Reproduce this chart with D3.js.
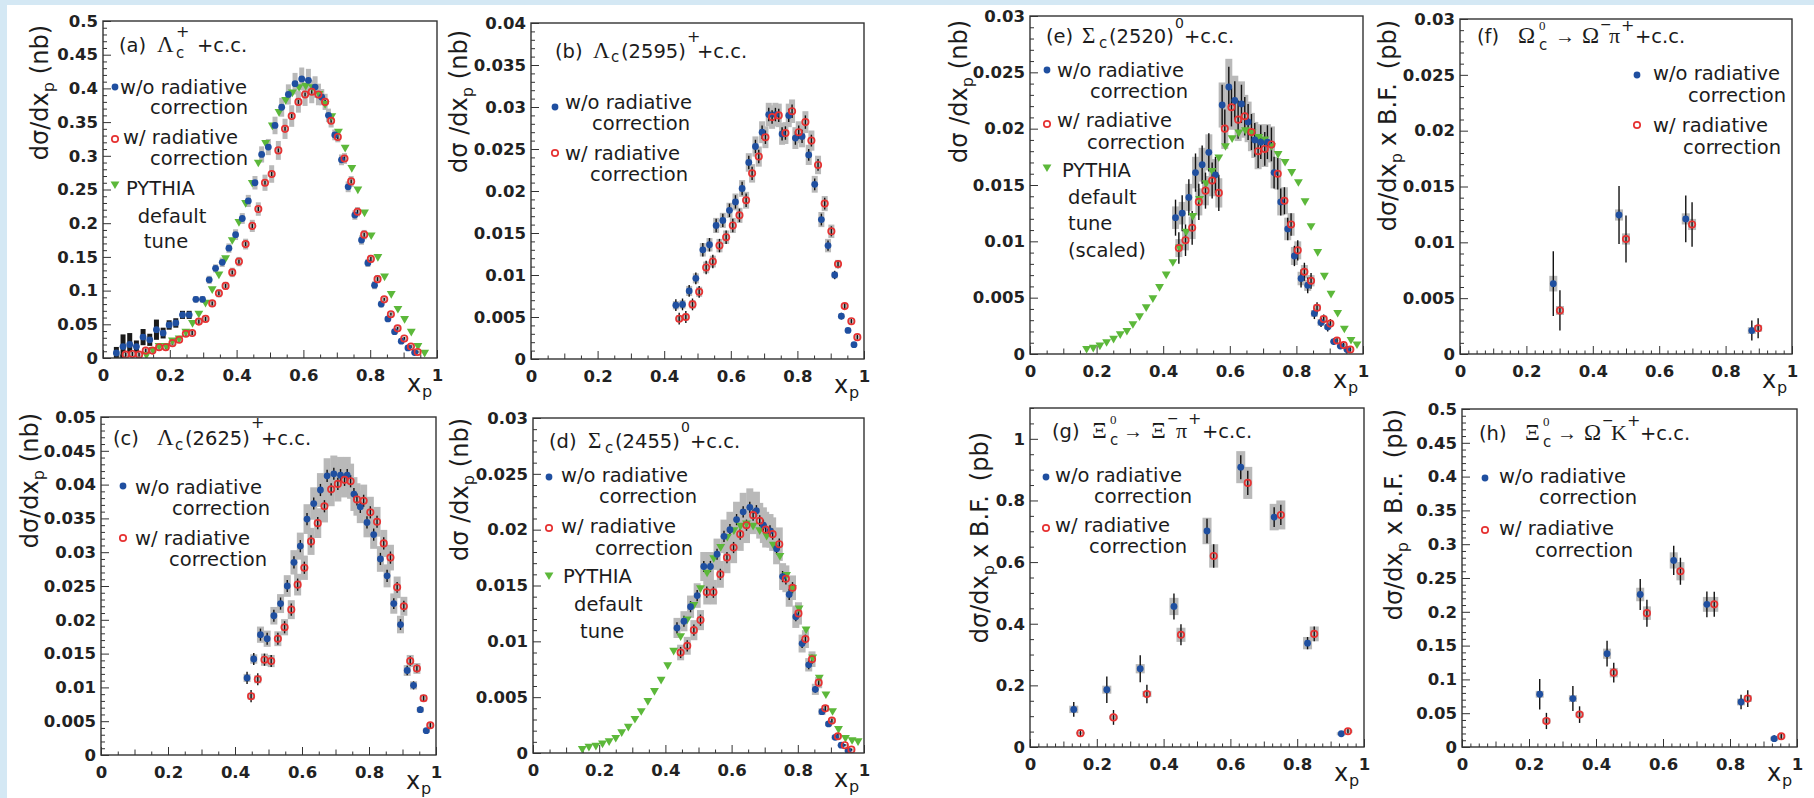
<!DOCTYPE html>
<html><head><meta charset="utf-8">
<script src="https://cdn.jsdelivr.net/npm/d3@7"></script>
<style>body{margin:0;background:#fff} svg{display:block}</style>
</head><body><svg id="c" width="1814" height="798"></svg>
<script>
// ---------------- DATA ----------------
const xTicks = [0, 0.2, 0.4, 0.6, 0.8, 1];
const xTickLabels = ["0", "0.2", "0.4", "0.6", "0.8", "1"];
const yTicksA = [0,0.05,0.1,0.15,0.2,0.25,0.3,0.35,0.4,0.45,0.5];
const yLabelsA = ["0","0.05","0.1","0.15","0.2","0.25","0.3","0.35","0.4","0.45","0.5"];
const yTicksB = [0,0.005,0.01,0.015,0.02,0.025,0.03,0.035,0.04];
const yLabelsB = ["0","0.005","0.01","0.015","0.02","0.025","0.03","0.035","0.04"];
const yTicksC = [0,0.005,0.01,0.015,0.02,0.025,0.03,0.035,0.04,0.045,0.05];
const yLabelsC = ["0","0.005","0.01","0.015","0.02","0.025","0.03","0.035","0.04","0.045","0.05"];
const yTicksD = [0,0.005,0.01,0.015,0.02,0.025,0.03];
const yLabelsD = ["0","0.005","0.01","0.015","0.02","0.025","0.03"];
const yTicksG = [0,0.2,0.4,0.6,0.8,1];
const yLabelsG = ["0","0.2","0.4","0.6","0.8","1"];

// [x, value, stat err, syst err]
const aBlue = [[0.040,0.0074,0.004,0.009],[0.060,0.017,0.005,0.018],[0.080,0.020,0.005,0.017],[0.100,0.017,0.004,0.009],[0.120,0.031,0.004,0.012],[0.140,0.027,0.004,0.009],[0.160,0.042,0.004,0.015],[0.180,0.037,0.004,0.008],[0.198,0.049,0.004,0.007],[0.218,0.052,0.004,0.007],[0.238,0.064,0.004,0.006],[0.258,0.064,0.004,0.006],[0.278,0.087,0.003,0.005],[0.298,0.087,0.003,0.005],[0.318,0.116,0.003,0.006],[0.337,0.133,0.003,0.006],[0.357,0.142,0.003,0.007],[0.377,0.163,0.003,0.007],[0.397,0.183,0.003,0.008],[0.417,0.207,0.003,0.008],[0.435,0.233,0.003,0.009],[0.455,0.260,0.003,0.010],[0.475,0.302,0.003,0.012],[0.495,0.313,0.003,0.012],[0.515,0.345,0.003,0.013],[0.535,0.372,0.003,0.014],[0.555,0.391,0.003,0.015],[0.575,0.407,0.003,0.016],[0.595,0.414,0.003,0.017],[0.615,0.412,0.003,0.017],[0.635,0.402,0.003,0.016],[0.655,0.387,0.003,0.012],[0.675,0.360,0.003,0.010],[0.694,0.331,0.003,0.008],[0.714,0.294,0.003,0.008],[0.734,0.254,0.003,0.008],[0.754,0.212,0.003,0.007],[0.774,0.175,0.003,0.007],[0.793,0.141,0.003,0.006],[0.813,0.108,0.003,0.006],[0.833,0.080,0.002,0.005],[0.853,0.058,0.002,0.004],[0.873,0.039,0.002,0.004],[0.893,0.025,0.002,0.003],[0.913,0.015,0.002,0.003],[0.933,0.008,0.002,0.002]];
const aRed = [[0.068,0.005,0.003,0.003],[0.088,0.006,0.003,0.003],[0.108,0.005,0.003,0.003],[0.128,0.011,0.003,0.003],[0.148,0.011,0.003,0.003],[0.168,0.016,0.003,0.003],[0.188,0.016,0.003,0.003],[0.208,0.022,0.003,0.004],[0.228,0.027,0.003,0.004],[0.248,0.036,0.003,0.004],[0.267,0.037,0.003,0.004],[0.287,0.054,0.003,0.005],[0.307,0.058,0.003,0.005],[0.327,0.081,0.003,0.005],[0.347,0.096,0.003,0.006],[0.367,0.107,0.003,0.006],[0.387,0.127,0.003,0.007],[0.407,0.143,0.003,0.007],[0.427,0.169,0.003,0.008],[0.447,0.196,0.003,0.009],[0.465,0.221,0.003,0.010],[0.485,0.260,0.003,0.012],[0.505,0.273,0.003,0.013],[0.525,0.308,0.003,0.014],[0.545,0.340,0.003,0.015],[0.565,0.359,0.003,0.016],[0.585,0.380,0.003,0.016],[0.605,0.391,0.003,0.017],[0.625,0.395,0.003,0.017],[0.645,0.391,0.003,0.016],[0.665,0.380,0.003,0.012],[0.683,0.352,0.003,0.010],[0.703,0.328,0.003,0.008],[0.723,0.296,0.003,0.008],[0.743,0.262,0.003,0.008],[0.762,0.217,0.003,0.007],[0.782,0.183,0.003,0.007],[0.802,0.147,0.003,0.006],[0.822,0.117,0.003,0.006],[0.842,0.087,0.002,0.005],[0.862,0.065,0.002,0.004],[0.882,0.044,0.002,0.004],[0.902,0.029,0.002,0.003],[0.922,0.017,0.002,0.003],[0.942,0.009,0.002,0.002]];
const aPythia = [[0.130,0.0035],[0.150,0.011],[0.168,0.017],[0.190,0.017],[0.208,0.025],[0.228,0.028],[0.248,0.038],[0.268,0.051],[0.287,0.065],[0.307,0.081],[0.327,0.101],[0.347,0.123],[0.367,0.147],[0.387,0.174],[0.407,0.201],[0.427,0.229],[0.447,0.259],[0.465,0.289],[0.487,0.318],[0.507,0.344],[0.527,0.364],[0.547,0.382],[0.567,0.393],[0.587,0.401],[0.607,0.403],[0.627,0.401],[0.647,0.391],[0.665,0.376],[0.685,0.358],[0.705,0.335],[0.725,0.311],[0.745,0.281],[0.763,0.249],[0.783,0.215],[0.803,0.181],[0.823,0.149],[0.843,0.120],[0.863,0.094],[0.883,0.072],[0.903,0.057],[0.923,0.038],[0.943,0.017],[0.963,0.007]];

const bBlue = [[0.435,0.0064,0.0007,0.0005],[0.455,0.0065,0.0007,0.0005],[0.475,0.0081,0.0007,0.0006],[0.495,0.0096,0.0007,0.0006],[0.516,0.0130,0.0008,0.0008],[0.536,0.0136,0.0008,0.0008],[0.556,0.0159,0.0008,0.0009],[0.576,0.0165,0.0008,0.0009],[0.596,0.0177,0.0008,0.0009],[0.614,0.0187,0.0008,0.0010],[0.634,0.0203,0.0008,0.0010],[0.654,0.0234,0.0008,0.0011],[0.674,0.0253,0.0008,0.0012],[0.694,0.0270,0.0008,0.0013],[0.714,0.0291,0.0008,0.0014],[0.734,0.0291,0.0008,0.0014],[0.754,0.0268,0.0008,0.0013],[0.774,0.0290,0.0008,0.0014],[0.794,0.0263,0.0008,0.0013],[0.814,0.0265,0.0008,0.0013],[0.834,0.0243,0.0007,0.0012],[0.852,0.0208,0.0007,0.0010],[0.872,0.0166,0.0007,0.0009],[0.892,0.0135,0.0006,0.0008],[0.912,0.0100,0.0005,0.0004],[0.932,0.0051,0.0004,0.0003],[0.952,0.0034,0.0003,0.0002],[0.970,0.0017,0.0003,0.0002]];
const bRed = [[0.445,0.0048,0.0007,0.0004],[0.465,0.0050,0.0007,0.0004],[0.485,0.0065,0.0007,0.0005],[0.505,0.0080,0.0007,0.0006],[0.526,0.0109,0.0008,0.0007],[0.546,0.0116,0.0008,0.0007],[0.566,0.0135,0.0008,0.0008],[0.586,0.0145,0.0008,0.0008],[0.606,0.0159,0.0008,0.0009],[0.626,0.0171,0.0008,0.0009],[0.646,0.0189,0.0008,0.0010],[0.664,0.0221,0.0008,0.0011],[0.684,0.0241,0.0008,0.0012],[0.704,0.0264,0.0008,0.0013],[0.724,0.0288,0.0008,0.0014],[0.744,0.0290,0.0008,0.0014],[0.764,0.0269,0.0008,0.0013],[0.784,0.0295,0.0008,0.0014],[0.804,0.0270,0.0008,0.0013],[0.824,0.0282,0.0008,0.0013],[0.842,0.0260,0.0007,0.0012],[0.862,0.0231,0.0007,0.0011],[0.882,0.0185,0.0007,0.0009],[0.902,0.0152,0.0006,0.0008],[0.922,0.0113,0.0005,0.0005],[0.942,0.0063,0.0004,0.0003],[0.962,0.0045,0.0003,0.0002],[0.980,0.0026,0.0003,0.0002]];

const cBlue = [[0.436,0.0114,0.0009,0.0006],[0.456,0.0142,0.0009,0.0007],[0.476,0.0178,0.0009,0.0012],[0.496,0.0172,0.0009,0.0012],[0.516,0.0206,0.0009,0.0013],[0.536,0.0224,0.0009,0.0014],[0.556,0.0250,0.0009,0.0016],[0.576,0.0285,0.0009,0.0018],[0.595,0.0309,0.0009,0.0020],[0.615,0.0349,0.0009,0.0022],[0.635,0.0372,0.0009,0.0024],[0.655,0.0392,0.0009,0.0025],[0.675,0.0413,0.0009,0.0026],[0.695,0.0416,0.0009,0.0027],[0.715,0.0414,0.0009,0.0027],[0.735,0.0414,0.0009,0.0027],[0.755,0.0386,0.0009,0.0025],[0.774,0.0367,0.0009,0.0024],[0.794,0.0344,0.0009,0.0022],[0.814,0.0326,0.0009,0.0021],[0.834,0.0290,0.0009,0.0019],[0.854,0.0265,0.0009,0.0017],[0.874,0.0224,0.0008,0.0015],[0.894,0.0193,0.0008,0.0013],[0.914,0.0125,0.0007,0.0008],[0.933,0.0103,0.0006,0.0006],[0.953,0.0067,0.0005,0.0004],[0.971,0.0036,0.0004,0.0003]];
const cRed = [[0.448,0.0087,0.0009,0.0005],[0.468,0.0112,0.0009,0.0006],[0.488,0.0141,0.0009,0.0009],[0.508,0.0139,0.0009,0.0009],[0.528,0.0172,0.0009,0.0011],[0.548,0.0189,0.0009,0.0012],[0.568,0.0215,0.0009,0.0014],[0.587,0.0252,0.0009,0.0016],[0.607,0.0277,0.0009,0.0018],[0.627,0.0316,0.0009,0.0020],[0.647,0.0343,0.0009,0.0022],[0.667,0.0368,0.0009,0.0024],[0.687,0.0393,0.0009,0.0025],[0.707,0.0401,0.0009,0.0026],[0.727,0.0407,0.0009,0.0026],[0.745,0.0405,0.0009,0.0026],[0.764,0.0378,0.0009,0.0024],[0.784,0.0376,0.0009,0.0024],[0.804,0.0359,0.0009,0.0023],[0.824,0.0345,0.0009,0.0022],[0.844,0.0313,0.0009,0.0020],[0.864,0.0292,0.0009,0.0019],[0.884,0.0248,0.0008,0.0016],[0.904,0.0220,0.0008,0.0014],[0.923,0.0139,0.0007,0.0009],[0.943,0.0128,0.0006,0.0008],[0.963,0.0084,0.0005,0.0005],[0.983,0.0044,0.0004,0.0003]];

const dBlue = [[0.435,0.0112,0.0005,0.0009],[0.456,0.0118,0.0005,0.0009],[0.476,0.0131,0.0005,0.0010],[0.496,0.0141,0.0005,0.0011],[0.516,0.0167,0.0005,0.0013],[0.536,0.0167,0.0005,0.0013],[0.556,0.0178,0.0005,0.0014],[0.577,0.0194,0.0005,0.0015],[0.595,0.0200,0.0005,0.0016],[0.615,0.0209,0.0005,0.0016],[0.635,0.0216,0.0005,0.0017],[0.655,0.0220,0.0005,0.0017],[0.675,0.0217,0.0005,0.0017],[0.696,0.0204,0.0005,0.0016],[0.716,0.0199,0.0005,0.0015],[0.736,0.0183,0.0005,0.0014],[0.754,0.0158,0.0005,0.0012],[0.774,0.0142,0.0005,0.0011],[0.794,0.0122,0.0004,0.0010],[0.813,0.0098,0.0004,0.0008],[0.833,0.0079,0.0004,0.0006],[0.853,0.0057,0.0003,0.0005],[0.873,0.0037,0.0003,0.0003],[0.893,0.0026,0.0002,0.0002],[0.913,0.0014,0.0002,0.0002],[0.931,0.0007,0.0001,0.0001],[0.952,0.0002,0.0001,0.0001]];
const dRed = [[0.446,0.0090,0.0005,0.0007],[0.466,0.0096,0.0005,0.0008],[0.486,0.0110,0.0005,0.0009],[0.506,0.0119,0.0005,0.0009],[0.525,0.0144,0.0005,0.0011],[0.545,0.0144,0.0005,0.0011],[0.566,0.0160,0.0005,0.0012],[0.586,0.0175,0.0005,0.0014],[0.606,0.0184,0.0005,0.0014],[0.626,0.0196,0.0005,0.0015],[0.645,0.0204,0.0005,0.0016],[0.665,0.0213,0.0005,0.0017],[0.685,0.0208,0.0005,0.0016],[0.703,0.0200,0.0005,0.0016],[0.724,0.0196,0.0005,0.0015],[0.744,0.0187,0.0005,0.0015],[0.764,0.0156,0.0005,0.0012],[0.784,0.0148,0.0005,0.0011],[0.802,0.0125,0.0004,0.0010],[0.823,0.0102,0.0004,0.0008],[0.843,0.0084,0.0004,0.0007],[0.863,0.0063,0.0003,0.0005],[0.883,0.0040,0.0003,0.0003],[0.903,0.0029,0.0002,0.0002],[0.921,0.0015,0.0002,0.0002],[0.942,0.0007,0.0001,0.0001],[0.962,0.0003,0.0001,0.0001]];
const dPythia = [[0.149,0.0003],[0.169,0.0005],[0.190,0.0006],[0.210,0.0008],[0.230,0.0010],[0.250,0.0013],[0.268,0.0018],[0.288,0.0023],[0.308,0.0030],[0.327,0.0037],[0.347,0.0046],[0.367,0.0055],[0.387,0.0065],[0.407,0.0078],[0.425,0.0091],[0.446,0.0104],[0.466,0.0119],[0.486,0.0132],[0.506,0.0147],[0.526,0.0161],[0.546,0.0174],[0.567,0.0184],[0.587,0.0193],[0.607,0.0199],[0.627,0.0203],[0.645,0.0205],[0.665,0.0203],[0.685,0.0199],[0.706,0.0194],[0.726,0.0186],[0.746,0.0176],[0.766,0.0159],[0.784,0.0147],[0.804,0.0129],[0.825,0.0110],[0.845,0.0085],[0.865,0.0067],[0.885,0.0052],[0.905,0.0037],[0.923,0.0021],[0.944,0.0013],[0.964,0.0011],[0.982,0.0010]];

const eBlue = [[0.437,0.0121,0.0016,0.0010],[0.457,0.0125,0.0016,0.0010],[0.477,0.0139,0.0016,0.0012],[0.497,0.0161,0.0017,0.0014],[0.517,0.0168,0.0017,0.0015],[0.537,0.0179,0.0017,0.0016],[0.557,0.0159,0.0016,0.0014],[0.577,0.0221,0.0018,0.0020],[0.597,0.0237,0.0018,0.0025],[0.615,0.0225,0.0017,0.0022],[0.635,0.0222,0.0017,0.0020],[0.655,0.0206,0.0016,0.0018],[0.675,0.0190,0.0015,0.0016],[0.693,0.0188,0.0015,0.0016],[0.713,0.0188,0.0015,0.0016],[0.733,0.0161,0.0014,0.0014],[0.753,0.0135,0.0012,0.0012],[0.774,0.0111,0.0010,0.0010],[0.794,0.0087,0.0009,0.0008],[0.814,0.0067,0.0008,0.0006],[0.834,0.0061,0.0007,0.0005],[0.854,0.0036,0.0005,0.0003],[0.874,0.0028,0.0004,0.0003],[0.894,0.0024,0.0004,0.0002],[0.912,0.0011,0.0003,0.0001],[0.932,0.0007,0.0002,0.0001],[0.952,0.0004,0.0002,0.0001]];
const eRed = [[0.447,0.0094,0.0014,0.0008],[0.467,0.0101,0.0014,0.0009],[0.487,0.0112,0.0015,0.0010],[0.507,0.0135,0.0016,0.0012],[0.527,0.0145,0.0016,0.0013],[0.547,0.0154,0.0016,0.0014],[0.567,0.0143,0.0016,0.0013],[0.585,0.0200,0.0017,0.0018],[0.605,0.0219,0.0017,0.0020],[0.625,0.0208,0.0017,0.0019],[0.645,0.0211,0.0017,0.0019],[0.665,0.0197,0.0016,0.0017],[0.685,0.0180,0.0015,0.0016],[0.705,0.0182,0.0015,0.0016],[0.725,0.0186,0.0015,0.0016],[0.744,0.0160,0.0014,0.0014],[0.764,0.0136,0.0012,0.0012],[0.784,0.0115,0.0010,0.0010],[0.804,0.0092,0.0009,0.0008],[0.824,0.0073,0.0008,0.0006],[0.844,0.0065,0.0007,0.0005],[0.862,0.0041,0.0005,0.0003],[0.882,0.0031,0.0004,0.0003],[0.902,0.0027,0.0004,0.0002],[0.922,0.0012,0.0003,0.0001],[0.942,0.0008,0.0002,0.0001],[0.962,0.0004,0.0002,0.0001]];
const ePythia = [[0.170,0.0004],[0.190,0.0005],[0.210,0.0007],[0.230,0.0010],[0.251,0.0013],[0.271,0.0017],[0.291,0.0020],[0.309,0.0026],[0.329,0.0033],[0.349,0.0041],[0.369,0.0049],[0.389,0.0059],[0.409,0.0070],[0.429,0.0081],[0.449,0.0094],[0.469,0.0108],[0.489,0.0122],[0.509,0.0137],[0.529,0.0151],[0.547,0.0162],[0.567,0.0174],[0.587,0.0184],[0.607,0.0191],[0.627,0.0196],[0.647,0.0198],[0.667,0.0196],[0.687,0.0192],[0.705,0.0190],[0.725,0.0184],[0.745,0.0177],[0.766,0.0170],[0.786,0.0161],[0.806,0.0152],[0.826,0.0135],[0.844,0.0113],[0.864,0.0090],[0.884,0.0069],[0.904,0.0053],[0.924,0.0036],[0.944,0.0022],[0.964,0.0012],[0.982,0.0008]];

const fBlue = [[0.281,0.0063,0.0029,0.0007],[0.479,0.01245,0.0026,0.0005],[0.680,0.0121,0.0021,0.0005],[0.879,0.0021,0.0009,0.0003]];
const fRed = [[0.301,0.0039,0.0018,0.0004],[0.500,0.0103,0.0021,0.0005],[0.699,0.0116,0.0020,0.0005],[0.898,0.0023,0.0009,0.0003]];

const gBlue = [[0.131,0.122,0.024,0.012],[0.230,0.186,0.043,0.013],[0.330,0.254,0.044,0.015],[0.431,0.456,0.042,0.028],[0.530,0.701,0.040,0.043],[0.631,0.908,0.039,0.052],[0.731,0.746,0.032,0.043],[0.831,0.337,0.020,0.020],[0.932,0.043,0.008,0.005]];
const gRed = [[0.151,0.045,0.010,0.004],[0.250,0.096,0.024,0.006],[0.350,0.172,0.030,0.010],[0.452,0.364,0.034,0.023],[0.550,0.620,0.038,0.038],[0.652,0.857,0.039,0.052],[0.751,0.753,0.033,0.047],[0.851,0.367,0.024,0.024],[0.952,0.051,0.008,0.005]];

const hBlue = [[0.232,0.078,0.0225,0.005],[0.331,0.0716,0.0185,0.005],[0.433,0.138,0.019,0.0075],[0.532,0.2256,0.023,0.010],[0.632,0.276,0.0217,0.012],[0.731,0.211,0.019,0.011],[0.833,0.0666,0.0106,0.005],[0.932,0.0123,0.005,0.003]];
const hRed = [[0.252,0.0385,0.012,0.004],[0.351,0.0479,0.0123,0.004],[0.453,0.110,0.0145,0.007],[0.552,0.198,0.020,0.010],[0.652,0.260,0.020,0.0135],[0.753,0.211,0.0185,0.011],[0.853,0.0716,0.0123,0.005],[0.953,0.0158,0.004,0.003]];

// ---------------- LAYOUT / STYLE ----------------
const SANS = '"DejaVu Sans", "Liberation Sans", sans-serif';
const SERIF = '"Liberation Serif", "DejaVu Serif", serif';
const INK = '#1c1c1c';
const BLUE = '#1f4fa0', RED = '#e63232', GREEN = '#5cb83a', SYS = '#b9b9b9';

const panels = [
 {L:103,T:21,R:437,B:358, yMax:0.5, yT:yTicksA, yL:yLabelsA, yMinor:0.01, xMinor:0.05, bw:5, blue:aBlue, red:aRed, py:aPythia, dark:0.27,
  yt:{dx:55,dy:4,kind:'nb0'},
  title:[["(a)",16,31],["Λ",54,31,23,1],["+",73,16,16],["c",73,37,15],["+c.c.",94,31]],
  leg:{mx:12, items:[["b",66,[["w/o radiative",17,73],["correction",145,93,'end']]],["r",118,[["w/ radiative",20,123],["correction",145,144,'end']]],["g",163,[["PYTHIA",23,174],["default",69,202,'middle'],["tune",63,227,'middle']]]]}},
 {L:531,T:23,R:864,B:359, yMax:0.04, yT:yTicksB, yL:yLabelsB, yMinor:0.001, xMinor:0.05, bw:6, blue:bBlue, red:bRed, py:null,
  yt:{dx:64,dy:7,kind:'nb'},
  title:[["(b)",24,35],["Λ",62,35,23,1],["c",80,39,15],["(2595)",90,35],["+",156,19,16],["+c.c.",166,35]],
  leg:{mx:24, items:[["b",84,[["w/o radiative",34,86],["correction",159,107,'end']]],["r",130,[["w/ radiative",34,137],["correction",157,158,'end']]]]}},
 {L:101,T:417,R:436,B:755, yMax:0.05, yT:yTicksC, yL:yLabelsC, yMinor:0.001, xMinor:0.05, bw:7, blue:cBlue, red:cRed, py:null,
  yt:{dx:63,dy:-4,kind:'nb0'},
  title:[["(c)",12,28],["Λ",56,28,23,1],["c",74,33,15],["(2625)",84,28],["+",150,11,16],["+c.c.",160,28]],
  leg:{mx:22, items:[["b",69,[["w/o radiative",34,77],["correction",169,98,'end']]],["r",121,[["w/ radiative",34,128],["correction",166,149,'end']]]]}},
 {L:533,T:418,R:864,B:753, yMax:0.03, yT:yTicksD, yL:yLabelsD, yMinor:0.001, xMinor:0.05, bw:7, blue:dBlue, red:dRed, py:dPythia,
  yt:{dx:65,dy:0,kind:'nb'},
  title:[["(d)",16,30],["Σ",55,30,23,1],["c",72,35,15],["(2455)",82,30],["0",148,14,14],["+c.c.",157,30]],
  leg:{mx:16, items:[["b",59,[["w/o radiative",28,64],["correction",164,85,'end']]],["r",110,[["w/ radiative",28,115],["correction",160,137,'end']]],["g",157,[["PYTHIA",30,165],["default",41,193],["tune",47,220]]]]}},
 {L:1030,T:16,R:1363,B:354, yMax:0.03, yT:yTicksD, yL:yLabelsD, yMinor:0.001, xMinor:0.05, bw:7, blue:eBlue, red:eRed, py:ePythia,
  yt:{dx:63,dy:4,kind:'nb'},
  title:[["(e)",16,27],["Σ",52,27,23,1],["c",69,32,15],["(2520)",79,27],["0",145,12,14],["+c.c.",154,27]],
  leg:{mx:17, items:[["b",54,[["w/o radiative",27,61],["correction",158,82,'end']]],["r",108,[["w/ radiative",27,111],["correction",155,133,'end']]],["g",151,[["PYTHIA",32,161],["default",38,188],["tune",38,214],["(scaled)",38,241]]]]}},
 {L:1460,T:19,R:1792,B:354, yMax:0.03, yT:yTicksD, yL:yLabelsD, yMinor:0.001, xMinor:0.025, bw:8, blue:fBlue, red:fRed, py:null,
  yt:{dx:64,dy:1,kind:'pb'},
  title:[["(f)",17,24],["Ω",58,24,23,1],["0",79,11,13,1],["c",79,31,15],["→",95,24,20,1],["Ω",122,24,23,1],["−",140,10,14],["π",149,24,22,1],["+",161,12,16],["+c.c.",175,24]],
  leg:{mx:177, items:[["b",56,[["w/o radiative",193,61],["correction",326,83,'end']]],["r",106,[["w/ radiative",193,113],["correction",321,135,'end']]]]}},
 {L:1030,T:408,R:1364,B:747, yMax:1.1, yT:yTicksG, yL:yLabelsG, yMinor:0.05, xMinor:0.025, bw:9, blue:gBlue, red:gRed, py:null,
  yt:{dx:42,dy:24,kind:'pb'},
  title:[["(g)",22,30],["Ξ",62,30,23,1],["0",80,16,13,1],["c",80,37,15],["→",93,30,20,1],["Ξ",121,30,23,1],["−",137,15,14],["π",146,30,22,1],["+",158,16,16],["+c.c.",172,30]],
  leg:{mx:16, items:[["b",69,[["w/o radiative",25,74],["correction",162,95,'end']]],["r",120,[["w/ radiative",25,124],["correction",157,145,'end']]]]}},
 {L:1462,T:409,R:1797,B:747, yMax:0.5, yT:yTicksA, yL:yLabelsA, yMinor:0.01, xMinor:0.025, bw:8, blue:hBlue, red:hRed, py:null,
  yt:{dx:60,dy:0,kind:'pb'},
  title:[["(h)",17,31],["Ξ",63,31,23,1],["0",81,17,13,1],["c",81,38,15],["→",95,31,20,1],["Ω",122,31,23,1],["−",140,16,14],["K",149,31,22,1],["+",165,17,16],["+c.c.",178,31]],
  leg:{mx:23, items:[["b",69,[["w/o radiative",37,74],["correction",175,95,'end']]],["r",121,[["w/ radiative",37,126],["correction",171,148,'end']]]]}}
];

// ---------------- DRAW ----------------
const svg = d3.select('#c');
svg.append('rect').attr('width',1814).attr('height',798).attr('fill','#fff');
svg.append('rect').attr('x',0).attr('y',0).attr('width',1814).attr('height',5).attr('fill','#d4e8f4');
svg.append('rect').attr('x',0).attr('y',0).attr('width',7).attr('height',798).attr('fill','#d4e8f4');
const defs = svg.append('defs');

function txt(g, x, y, s, size, serif, anchor){
  return g.append('text').attr('x',x).attr('y',y).text(s)
    .attr('font-family', serif ? SERIF : SANS).attr('font-size', size)
    .attr('text-anchor', anchor || 'start').attr('fill', INK);
}
const tri = d3.symbol().type(d3.symbolTriangle).size(34);

function marker(g, kind, cx, cy){
  if (kind === 'b') g.append('circle').attr('cx',cx).attr('cy',cy).attr('r',3.4).attr('fill',BLUE);
  else if (kind === 'r') g.append('circle').attr('cx',cx).attr('cy',cy).attr('r',3.2).attr('fill','none').attr('stroke',RED).attr('stroke-width',1.7);
  else g.append('path').attr('d',tri).attr('transform',`translate(${cx},${cy}) rotate(180)`).attr('fill',GREEN);
}

panels.forEach((p, idx) => {
  const g = svg.append('g');
  const x = d3.scaleLinear().domain([0,1]).range([p.L,p.R]);
  const y = d3.scaleLinear().domain([0,p.yMax]).range([p.B,p.T]);
  const cid = 'clip'+idx;
  defs.append('clipPath').attr('id',cid).append('rect').attr('x',p.L).attr('y',p.T).attr('width',p.R-p.L).attr('height',p.B-p.T);

  const styleAxis = sel => { sel.select('.domain').remove(); sel.selectAll('line').attr('stroke','#333').attr('stroke-width',1); };
  const eps = 1e-9;
  const xMinorVals = d3.range(0, 1+eps, p.xMinor).filter(v => Math.abs(v*10 - Math.round(v*10)) > 1e-6);
  const gx = g.append('g').attr('transform',`translate(0,${p.B})`);
  gx.append('g').call(d3.axisBottom(x).tickValues(xMinorVals).tickSize(-3.5).tickFormat('')).call(styleAxis);
  gx.append('g').call(d3.axisBottom(x).tickValues([0.1,0.3,0.5,0.7,0.9]).tickSize(-5.5).tickFormat('')).call(styleAxis);
  const gxm = gx.append('g').call(d3.axisBottom(x).tickValues(xTicks).tickSize(-8).tickPadding(11).tickFormat((d,i)=>xTickLabels[i])).call(styleAxis);
  gxm.selectAll('text').attr('font-family',SANS).attr('font-weight','bold').attr('font-size',16.5).attr('fill','#222');

  const nMinor = Math.round(p.yMax / p.yMinor);
  const yMinorVals = d3.range(0, nMinor+1).map(i => i*p.yMinor).filter(v => !p.yT.some(t => Math.abs(t-v) < p.yMinor*0.01));
  const gy = g.append('g').attr('transform',`translate(${p.L},0)`);
  gy.append('g').call(d3.axisLeft(y).tickValues(yMinorVals).tickSize(-4).tickFormat('')).call(styleAxis);
  const gym = gy.append('g').call(d3.axisLeft(y).tickValues(p.yT).tickSize(-8).tickPadding(5).tickFormat((d,i)=>p.yL[i])).call(styleAxis);
  gym.selectAll('text').attr('font-family',SANS).attr('font-weight','bold').attr('font-size',16.5).attr('fill','#222');

  // data
  const dg = g.append('g').attr('clip-path',`url(#${cid})`);
  const series = [[p.blue,'b'],[p.red,'r']];
  series.forEach(([data,k]) => {
    dg.selectAll(null).data(data).enter().append('rect')
      .attr('x', d => x(d[0]) - p.bw/2).attr('width', p.bw)
      .attr('y', d => y(d[1]+d[3])).attr('height', d => y(d[1]-d[3]) - y(d[1]+d[3]))
      .attr('fill', d => (k==='b' && p.dark && d[0] < p.dark) ? '#1a1a1a' : SYS);
  });
  series.forEach(([data]) => {
    dg.selectAll(null).data(data).enter().append('line')
      .attr('x1', d => x(d[0])).attr('x2', d => x(d[0]))
      .attr('y1', d => y(d[1]-d[2])).attr('y2', d => y(d[1]+d[2]))
      .attr('stroke','#111').attr('stroke-width',1.4);
  });
  if (p.py) {
    dg.selectAll(null).data(p.py).enter().append('path').attr('d',tri)
      .attr('transform', d => `translate(${x(d[0])},${y(d[1])-1}) rotate(180)`).attr('fill',GREEN);
  }
  dg.selectAll(null).data(p.blue).enter().append('circle')
    .attr('cx', d => x(d[0])).attr('cy', d => y(d[1])).attr('r',3.4).attr('fill',BLUE);
  dg.selectAll(null).data(p.red).enter().append('circle')
    .attr('cx', d => x(d[0])).attr('cy', d => y(d[1])).attr('r',3.2)
    .attr('fill','none').attr('stroke',RED).attr('stroke-width',1.7);

  // frame
  g.append('rect').attr('x',p.L).attr('y',p.T).attr('width',p.R-p.L).attr('height',p.B-p.T)
    .attr('fill','none').attr('stroke','#333').attr('stroke-width',1.4);

  // title: one text element, pieces as positioned tspans
  const tt = g.append('text').attr('fill',INK).attr('font-family',SANS).attr('font-size',19.5);
  p.title.forEach(([s,dx,dy,size,serif]) => {
    tt.append('tspan').attr('x',p.L+dx).attr('y',p.T+dy).text(s)
      .attr('font-size',size||19.5).attr('font-family', serif ? SERIF : SANS);
  });

  // legend
  p.leg.items.forEach(([k,my,lines]) => {
    marker(g, k, p.L+p.leg.mx, p.T+my);
    lines.forEach(([s,dx,dy,anchor]) => txt(g, p.L+dx, p.T+dy, s, 19.5, false, anchor));
  });

  // y title
  const yt = g.append('text').attr('transform',`translate(${p.L-p.yt.dx},${p.T+p.yt.dy}) rotate(-90)`)
    .attr('text-anchor','end').attr('font-family',SANS).attr('font-size',24).attr('fill',INK);
  yt.append('tspan').text(p.yt.kind === 'nb' ? 'dσ /dx' : 'dσ/dx');
  yt.append('tspan').text('p').attr('font-size',16).attr('dy',6);
  if (p.yt.kind === 'pb') {
    yt.append('tspan').text('x').attr('dy',-6).attr('dx',7);
    yt.append('tspan').text('B.F.').attr('dx',7);
    yt.append('tspan').text('(pb)').attr('dx',14);
  } else {
    yt.append('tspan').text('(nb)').attr('dy',-6).attr('dx',8);
  }

  // x title
  const xt = g.append('text').attr('font-family',SANS).attr('fill',INK);
  xt.append('tspan').attr('x',p.R-30).attr('y',p.B+34).attr('font-size',24).text('x');
  xt.append('tspan').attr('x',p.R-15).attr('y',p.B+39).attr('font-size',16).text('p');
});
</script></body></html>
